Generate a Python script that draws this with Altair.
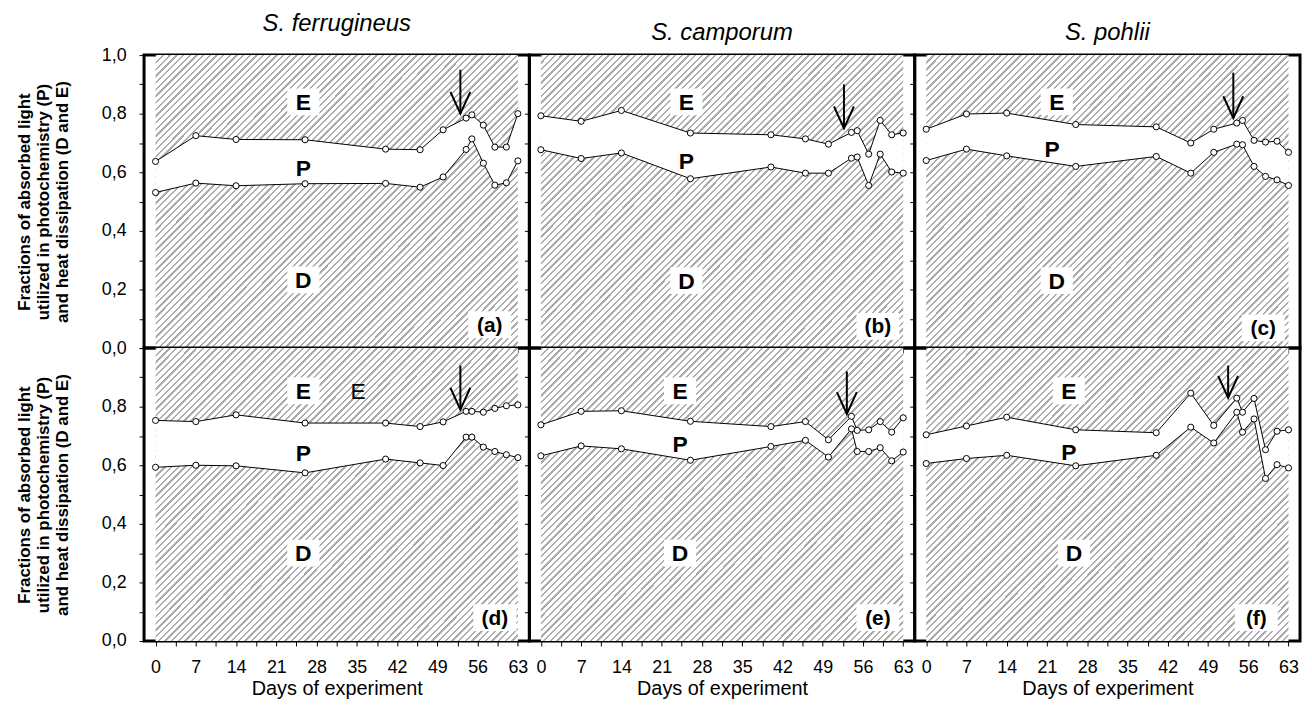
import altair as alt
import pandas as pd

# ---------------- data ----------------
DAYS = [0, 7, 14, 26, 40, 46, 50, 54, 55, 57, 59, 61, 63]
SPECIES = ["S. ferrugineus", "S. camporum", "S. pohlii"]
PANEL_TAGS = ["(a)", "(b)", "(c)", "(d)", "(e)", "(f)"]

E_A = [0.637, 0.725, 0.712, 0.711, 0.679, 0.677, 0.745, 0.785, 0.796, 0.761, 0.686, 0.686, 0.800]
P_A = [0.531, 0.563, 0.554, 0.561, 0.562, 0.549, 0.584, 0.678, 0.714, 0.631, 0.556, 0.564, 0.639]
E_B = [0.793, 0.774, 0.811, 0.734, 0.728, 0.714, 0.696, 0.736, 0.742, 0.662, 0.777, 0.728, 0.734]
P_B = [0.677, 0.647, 0.666, 0.578, 0.618, 0.597, 0.597, 0.648, 0.652, 0.555, 0.662, 0.601, 0.597]
E_C = [0.747, 0.799, 0.802, 0.763, 0.755, 0.700, 0.747, 0.768, 0.777, 0.709, 0.703, 0.706, 0.668]
P_C = [0.640, 0.679, 0.656, 0.620, 0.654, 0.597, 0.668, 0.696, 0.694, 0.620, 0.586, 0.574, 0.555]
E_D = [0.753, 0.749, 0.772, 0.744, 0.744, 0.732, 0.748, 0.784, 0.784, 0.781, 0.794, 0.803, 0.806]
P_D = [0.593, 0.600, 0.598, 0.574, 0.621, 0.608, 0.599, 0.696, 0.696, 0.662, 0.647, 0.636, 0.626]
E_E = [0.738, 0.784, 0.786, 0.750, 0.732, 0.749, 0.687, 0.767, 0.719, 0.721, 0.749, 0.713, 0.762]
P_E = [0.632, 0.666, 0.656, 0.617, 0.664, 0.685, 0.628, 0.724, 0.647, 0.647, 0.660, 0.615, 0.645]
E_F = [0.704, 0.734, 0.764, 0.721, 0.711, 0.846, 0.736, 0.829, 0.781, 0.828, 0.653, 0.716, 0.721]
P_F = [0.606, 0.623, 0.634, 0.598, 0.634, 0.730, 0.676, 0.781, 0.713, 0.758, 0.555, 0.602, 0.591]

E_SERIES = [E_A, E_B, E_C, E_D, E_E, E_F]
P_SERIES = [P_A, P_B, P_C, P_D, P_E, P_F]

# region-label positions (day, fraction)
E_LABEL_DAY = [25.7, 25.3, 22.7, 25.7, 24.2, 24.8]
E_LABEL_VAL = [0.84, 0.84, 0.84, 0.854, 0.854, 0.854]
P_LABEL_DAY = [25.7, 25.3, 21.9, 25.7, 24.2, 24.8]
P_LABEL_VAL = [0.614, 0.64, 0.68, 0.64, 0.673, 0.645]
D_LABEL_DAY = [25.7, 25.3, 22.7, 25.7, 24.2, 25.7]
D_LABEL_VAL = [0.233, 0.23, 0.23, 0.30, 0.30, 0.30]
TAG_DAY = [58.1, 58.6, 58.6, 59.0, 58.6, 57.4]
TAG_VAL = [0.08, 0.074, 0.069, 0.08, 0.08, 0.08]
EXTRA_E_DAY = [35.2]   # stray "E" in panel (d)
EXTRA_E_VAL = [0.854]

# arrows
ARROW_DAY = [53.0, 52.7, 53.4, 53.0, 53.2, 52.5]
ARROW_TOP = [0.95, 0.90, 0.94, 0.94, 0.92, 0.94]
ARROW_TIP = [0.80, 0.75, 0.785, 0.79, 0.775, 0.83]

X_TICKS = [k * 3.5 for k in range(19)]
Y_TICKS = [k / 10 for k in range(11)]
Y_TITLE = ["Fractions of absorbed light", "utilized in photochemistry (P)", "and heat dissipation (D and E)"]

# ---------------- styling ----------------
FONT = "Liberation Sans"
W, H = 388, 295
X_DOMAIN = [-2, 65]
HATCH = "#acacac"

N_STRIPES = 98
DARK = 0.35
stops = []
for k in range(N_STRIPES):
    a = k / N_STRIPES
    b = (k + DARK) / N_STRIPES
    c = (k + 1) / N_STRIPES
    stops += [
        alt.GradientStop(color=HATCH, offset=a),
        alt.GradientStop(color=HATCH, offset=b),
        alt.GradientStop(color="white", offset=b),
        alt.GradientStop(color="white", offset=c),
    ]
hatch_fill = alt.LinearGradient(gradient="linear", stops=stops, x1=0, y1=0, x2=1.094, y2=0.882)

LABEL_EXPR_TOP = "(round(datum.value*10) % 2 == 0) ? replace(format(datum.value, '.1f'), '.', ',') : ''"
LABEL_EXPR_BOT = "(round(datum.value*10) % 2 == 0 && datum.value < 0.95) ? replace(format(datum.value, '.1f'), '.', ',') : ''"


def panel(i):
    row, col = divmod(i, 3)
    days = DAYS
    band = pd.DataFrame({"day": days, "E": E_SERIES[i], "P": P_SERIES[i]})
    long = pd.concat([
        pd.DataFrame({"day": days, "v": E_SERIES[i], "s": "E"}),
        pd.DataFrame({"day": days, "v": P_SERIES[i], "s": "P"}),
    ])
    hatch = pd.DataFrame({"x0": [min(days)], "x1": [max(days)], "y0": [0.0], "y1": [1.0]})

    xa = dict(values=X_TICKS, grid=False, domain=False, tickColor="black", tickSize=5,
              tickWidth=1, labelFont=FONT, labelFontSize=18, labelColor="black",
              labelExpr="datum.value % 7 == 0 ? format(datum.value, 'd') : ''",
              labelPadding=13, labelFlush=False, labelOverlap=False)
    if row == 1:
        xa.update(title="Days of experiment", titleFont=FONT, titleFontSize=20,
                  titleFontWeight="normal", titleColor="black", titlePadding=2)
    else:
        xa.update(labels=False, title="")
    ya = dict(values=Y_TICKS, grid=False, domain=False, tickColor="black", tickSize=5,
              tickWidth=1, labelFont=FONT, labelFontSize=18, labelColor="black",
              labelPadding=13, labelFlush=False, labelOverlap=False,
              labelExpr=LABEL_EXPR_TOP if row == 0 else LABEL_EXPR_BOT)
    if col == 0:
        ya.update(title=Y_TITLE, titleFont=FONT, titleFontSize=17, titleFontWeight="bold",
                  titleColor="black", titleLineHeight=19, titlePadding=30)
    else:
        ya.update(labels=False, title="")

    def X(f):
        return alt.X(f, scale=alt.Scale(domain=X_DOMAIN, nice=False, zero=False), axis=alt.Axis(**xa))

    def Y(f):
        return alt.Y(f, scale=alt.Scale(domain=[0, 1], nice=False), axis=alt.Axis(**ya))

    base_hatch = alt.Chart(hatch).mark_rect(color=hatch_fill, strokeWidth=0).encode(
        x=X("x0:Q"), x2="x1:Q", y=Y("y0:Q"), y2="y1:Q",
    )
    white_band = alt.Chart(band).mark_area(color="white", opacity=1, interpolate="linear").encode(
        x=X("day:Q"), y=Y("P:Q"), y2="E:Q"
    )
    lines = alt.Chart(long).mark_line(color="black", strokeWidth=1).encode(
        x=X("day:Q"), y=Y("v:Q"), detail="s:N"
    )
    pts = alt.Chart(long).mark_point(shape="circle", filled=True, fill="white", stroke="black",
                                     strokeWidth=1, size=38, opacity=1).encode(
        x=X("day:Q"), y=Y("v:Q")
    )

    box_df = pd.DataFrame({
        "x": [E_LABEL_DAY[i], D_LABEL_DAY[i]],
        "y": [E_LABEL_VAL[i], D_LABEL_VAL[i]],
    })
    boxes = alt.Chart(box_df).mark_point(
        shape="M-1.2,-1L1.2,-1L1.2,1L-1.2,1Z", filled=True, fill="white", strokeWidth=0,
        size=729, opacity=1).encode(x=X("x:Q"), y=Y("y:Q"))
    tag_box = alt.Chart(pd.DataFrame({"x": [TAG_DAY[i]], "y": [TAG_VAL[i]]})).mark_point(
        shape="M-1.6,-1L1.6,-1L1.6,1L-1.6,1Z", filled=True, fill="white", strokeWidth=0,
        size=729, opacity=1).encode(x=X("x:Q"), y=Y("y:Q"))

    lab_df = pd.DataFrame({
        "x": [E_LABEL_DAY[i], P_LABEL_DAY[i], D_LABEL_DAY[i]],
        "y": [E_LABEL_VAL[i], P_LABEL_VAL[i], D_LABEL_VAL[i]],
        "t": ["E", "P", "D"],
    })
    labels = alt.Chart(lab_df).mark_text(font=FONT, fontSize=23, fontWeight="bold", color="black",
                                         baseline="middle", align="center", dy=1).encode(
        x=X("x:Q"), y=Y("y:Q"), text="t:N")
    tag = alt.Chart(pd.DataFrame({"x": [TAG_DAY[i]], "y": [TAG_VAL[i]], "t": [PANEL_TAGS[i]]})).mark_text(
        font=FONT, fontSize=21, fontWeight="bold", color="black", baseline="middle", align="center", dy=1
    ).encode(x=X("x:Q"), y=Y("y:Q"), text="t:N")

    arrow_df = pd.DataFrame({"x": [ARROW_DAY[i]], "top": [ARROW_TOP[i]], "tip": [ARROW_TIP[i]]})
    shaft = alt.Chart(arrow_df).mark_rule(color="black", strokeWidth=2).encode(
        x=X("x:Q"), y=Y("top:Q"), y2="tip:Q")
    head = alt.Chart(arrow_df).mark_point(shape="M-1,-2.2L0,0L1,-2.2", filled=False, stroke="black",
                                          strokeWidth=2, size=400, opacity=1).encode(
        x=X("x:Q"), y=Y("tip:Q"))

    layers = [base_hatch, white_band, lines, pts, boxes, tag_box, labels, tag, shaft, head]
    if i == 3:
        extra = alt.Chart(pd.DataFrame({"x": EXTRA_E_DAY, "y": EXTRA_E_VAL, "t": ["E"]})).mark_text(
            font=FONT, fontSize=23, fontWeight="normal", color="black", baseline="middle", align="center", dy=1
        ).encode(x=X("x:Q"), y=Y("y:Q"), text="t:N")
        layers.append(extra)

    props = dict(width=W, height=H)
    if row == 0:
        props["title"] = alt.TitleParams(SPECIES[col], font=FONT, fontSize=24, fontStyle="italic",
                                         fontWeight="normal", color="black", offset=10,
                                         anchor="middle", frame="group")
    return alt.layer(*layers).properties(**props)


chart = alt.concat(*[panel(i) for i in range(6)], columns=3, spacing=0, bounds="flush").properties(
    padding={"left": 6, "top": 0, "right": 2, "bottom": 2}
).configure(background="white").configure_view(stroke="black", strokeWidth=3)

chart.save("out.html", embed_options={"renderer": "svg", "actions": False})
